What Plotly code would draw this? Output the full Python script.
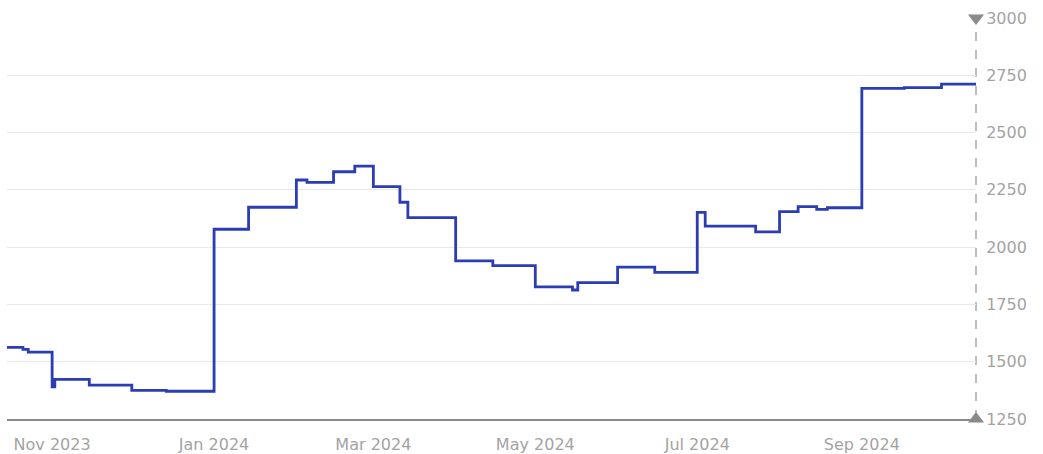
import plotly.graph_objects as go

dates = [
    "2023-10-15", "2023-10-21", "2023-10-23", "2023-11-01", "2023-11-02",
    "2023-11-15", "2023-12-01", "2023-12-14", "2024-01-01", "2024-01-14",
    "2024-02-01", "2024-02-05", "2024-02-15", "2024-02-23", "2024-03-01",
    "2024-03-11", "2024-03-14", "2024-04-01", "2024-04-15", "2024-05-01",
    "2024-05-15", "2024-05-17", "2024-06-01", "2024-06-15", "2024-07-01",
    "2024-07-04", "2024-07-23", "2024-08-01", "2024-08-08", "2024-08-15",
    "2024-08-19", "2024-09-01", "2024-09-17", "2024-10-01", "2024-10-14",
]
values = [
    1563, 1554, 1542, 1390, 1423,
    1398, 1375, 1371, 2078, 2174,
    2293, 2283, 2329, 2354, 2264,
    2196, 2129, 1940, 1919, 1827,
    1813, 1845, 1913, 1890, 2152,
    2092, 2067, 2155, 2177, 2165,
    2172, 2693, 2696, 2711, 2711,
]
y_ticks = [1250, 1500, 1750, 2000, 2250, 2500, 2750, 3000]
x_range = ["2023-10-15", "2024-10-14"]
y_range = [1250, 3000]

fig = go.Figure()
fig.add_trace(go.Scatter(
    x=dates, y=values, mode="lines", line=dict(color="#2a3db2", width=2.8, shape="hv"),
    showlegend=False, hoverinfo="x+y",
))
# axis end arrows
fig.add_trace(go.Scatter(
    x=[x_range[1], x_range[1]], y=[y_range[1], y_range[0]], mode="markers",
    marker=dict(symbol=["triangle-down", "triangle-up"], size=14, color="#8a8a8a"),
    cliponaxis=False, showlegend=False, hoverinfo="skip",
))
fig.add_shape(type="line", xref="paper", yref="paper", x0=1, x1=1, y0=0, y1=1,
              line=dict(color="#9a9a9a", width=1.3, dash="dash"), layer="below")

fig.update_layout(
    width=1043, height=454,
    margin=dict(l=7, r=67, t=18, b=35),
    paper_bgcolor="white", plot_bgcolor="white",
    font=dict(family="DejaVu Sans", size=15, color="#a3a3a3"),
    xaxis=dict(
        range=x_range, type="date", tick0="2023-11-01", dtick="M2", tickformat="%b %Y",
        showgrid=False, showline=True, linecolor="#8a8a8a", linewidth=2,
        ticks="outside", ticklen=10, tickcolor="rgba(0,0,0,0)",
        tickfont=dict(size=16, color="#a3a3a3"), zeroline=False, automargin=False,
    ),
    yaxis=dict(
        range=y_range, side="right", tickvals=y_ticks, showgrid=True, gridcolor="#e8e8e8",
        gridwidth=1.2, showline=False, zeroline=False,
        ticks="outside", ticklen=6, tickcolor="rgba(0,0,0,0)",
        tickfont=dict(size=16, color="#a3a3a3"), automargin=False,
    ),
)
fig.write_html("out.html", config={"displayModeBar": False},
               post_script="document.body.style.margin='0px';")
